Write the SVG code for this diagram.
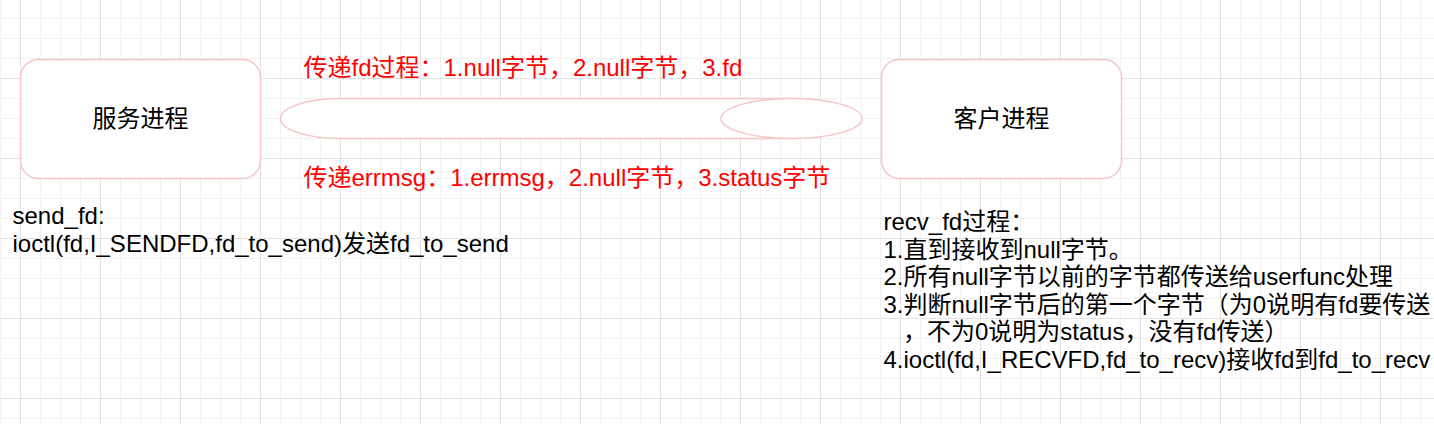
<svg xmlns="http://www.w3.org/2000/svg" width="1434" height="424" viewBox="0 0 1434 424">
<defs>
<pattern id="grid" x="0" y="-2" width="80" height="80" patternUnits="userSpaceOnUse">
<path d="M0.5 0V80M40.5 0V80M60.5 0V80M0 20.5H80M0 40.5H80M0 60.5H80" stroke="#f1f1f1" stroke-width="1" fill="none"/>
<path d="M20.5 0V80M0 0.5H80" stroke="#e2e2e2" stroke-width="1" fill="none"/>
</pattern>
<style>
.node{fill:#fff;stroke:#f4c7c7;stroke-width:1.5}
text{font-family:"Liberation Sans","Noto Sans CJK SC",sans-serif;font-size:24px;fill:#000}
.red{fill:#ff0000}
.c{text-anchor:middle}
</style>
</defs>
<rect width="1434" height="424" fill="#fff"/>
<rect width="1434" height="424" fill="url(#grid)"/>
<g id="server">
<rect class="node" x="20.5" y="59.5" width="240" height="119" rx="18" ry="18"/>
<text class="c" x="140.5" y="127">服务进程</text>
</g>
<g id="client">
<rect class="node" x="881.5" y="59.5" width="240" height="119" rx="18" ry="18"/>
<text class="c" x="1001.5" y="127">客户进程</text>
</g>
<g id="pipe">
<rect class="node" x="280.5" y="98.5" width="570" height="40" rx="60" ry="20"/>
<ellipse class="node" cx="791.5" cy="118.5" rx="70.5" ry="20"/>
</g>
<g id="connectors"></g>
<g id="label-fd">
<text class="red" x="303.5" y="76">传递fd过程：1.null字节，2.null字节，3.fd</text>
</g>
<g id="label-errmsg">
<text class="red" x="303.5" y="186">传递errmsg：1.errmsg，2.null字节，3.status字节</text>
</g>
<g id="send-note">
<text x="12.5" y="224">send_fd:</text>
<text x="12.5" y="252">ioctl(fd,I_SENDFD,fd_to_send)发送fd_to_send</text>
</g>
<g id="recv-note">
<text x="883.5" y="230">recv_fd过程：</text>
<text x="883.5" y="257.5">1.直到接收到null字节。</text>
<text x="883.5" y="285">2.所有null字节以前的字节都传送给userfunc处理</text>
<text x="883.5" y="312.5">3.判断null字节后的第一个字节（为0说明有fd要传送</text>
<text x="903" y="340">，不为0说明为status，没有fd传送）</text>
<text x="883.5" y="367.5">4.ioctl(fd,I_RECVFD,fd_to_recv)接收fd到fd_to_recv</text>
</g>
</svg>
